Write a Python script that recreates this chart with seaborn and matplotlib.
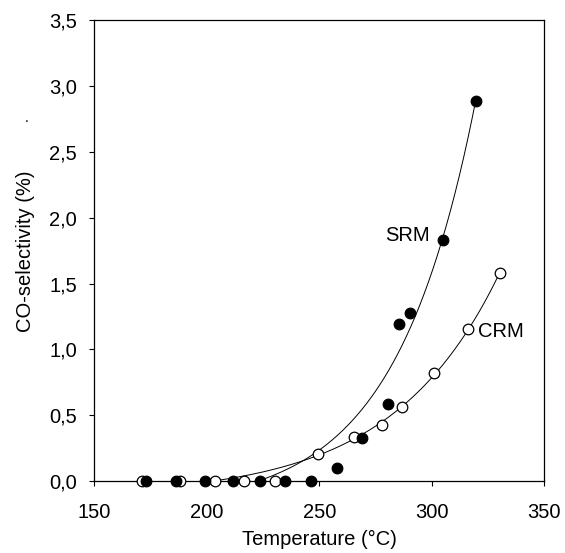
import numpy as np
import pandas as pd
import matplotlib
matplotlib.use("Agg")
import matplotlib.pyplot as plt
import seaborn as sns

# ---- data ----
srm_temp = [173.0, 186.4, 199.4, 211.6, 223.5, 234.6, 246.5, 257.7, 269.1, 280.7, 285.4, 290.3, 305.1, 319.7]
srm_sel = [0.0, 0.0, 0.0, 0.0, 0.0, 0.0, 0.0, 0.10, 0.33, 0.585, 1.19, 1.28, 1.835, 2.89]
crm_temp = [171.2, 188.2, 203.5, 216.5, 230.5, 249.5, 265.4, 277.7, 286.6, 301.0, 316.3, 330.4]
crm_sel = [0.0, 0.0, 0.0, 0.0, 0.0, 0.205, 0.336, 0.425, 0.564, 0.82, 1.159, 1.582]

x_ticks = [150, 200, 250, 300, 350]
y_ticks = [0.0, 0.5, 1.0, 1.5, 2.0, 2.5, 3.0, 3.5]
y_tick_labels = ["0,0", "0,5", "1,0", "1,5", "2,0", "2,5", "3,0", "3,5"]
x_label = "Temperature (°C)"
y_label = "CO-selectivity (%)"
series_labels = ["SRM", "CRM"]


def exp_fit(x, y):
    """Weighted least-squares fit of y = c0 + c1*exp(b*(x-300))."""
    x = np.asarray(x, float)
    y = np.asarray(y, float)
    w = np.sqrt(1.0 + 3.0 * y)
    best = None
    for b in np.linspace(0.005, 0.12, 600):
        A = np.column_stack([np.ones_like(x), np.exp(b * (x - 300))])
        coef = np.linalg.lstsq(A * w[:, None], y * w, rcond=None)[0]
        err = np.sum(((A @ coef - y) * w) ** 2)
        if best is None or err < best[0]:
            best = (err, b, coef)
    _, b, coef = best
    return lambda t: coef[0] + coef[1] * np.exp(b * (t - 300))


sns.set_theme(style="ticks")
plt.rcParams["font.family"] = ["Liberation Sans", "DejaVu Sans"]
plt.rcParams["axes.linewidth"] = 0.9
plt.rcParams["text.color"] = "black"
plt.rcParams["axes.labelcolor"] = "black"

fig = plt.figure(figsize=(5.65, 5.53), dpi=100)
ax = fig.add_axes([0.167, 0.130, 0.796, 0.833])

# fitted curves
for tx, sy in [(srm_temp, srm_sel), (crm_temp, crm_sel)]:
    f = exp_fit(tx, sy)
    xs = np.linspace(min(tx), max(tx), 300)
    sns.lineplot(x=xs, y=f(xs), ax=ax, color="black", linewidth=0.7, zorder=2)

df_s = pd.DataFrame({"T": srm_temp, "S": srm_sel})
df_c = pd.DataFrame({"T": crm_temp, "S": crm_sel})
sns.scatterplot(data=df_c, x="T", y="S", ax=ax, s=58, color="white",
                edgecolor="black", linewidth=0.9, zorder=3, clip_on=False)
sns.scatterplot(data=df_s, x="T", y="S", ax=ax, s=58, color="black",
                edgecolor="black", linewidth=0.9, zorder=4, clip_on=False)

ax.set_xlim(150, 350)
ax.set_ylim(0, 3.5)
ax.set_xticks(x_ticks)
ax.set_xticklabels([str(v) for v in x_ticks])
ax.set_yticks(y_ticks)
ax.set_yticklabels(y_tick_labels)
ax.tick_params(axis="both", direction="out", length=3.6, width=0.8,
               labelsize=14.5, colors="black")
ax.tick_params(axis="x", pad=12)
ax.tick_params(axis="y", pad=9)
ax.set_xlabel(x_label, fontsize=14.5, labelpad=6, color="black")
ax.set_ylabel(y_label, fontsize=14.5, labelpad=10, color="black")
for sp in ax.spines.values():
    sp.set_visible(True)
    sp.set_color("black")

ax.text(289.2, 1.868, series_labels[0], fontsize=14.5, ha="center", va="center", color="black")
ax.text(330.6, 1.139, series_labels[1], fontsize=14.5, ha="center", va="center", color="black")

# small stray dot present in the reference, near the y label
fig.text(27 / 565, 1 - 118 / 553, ".", fontsize=10, ha="center", va="center", color="black")

fig.savefig("out.png", dpi=100)
